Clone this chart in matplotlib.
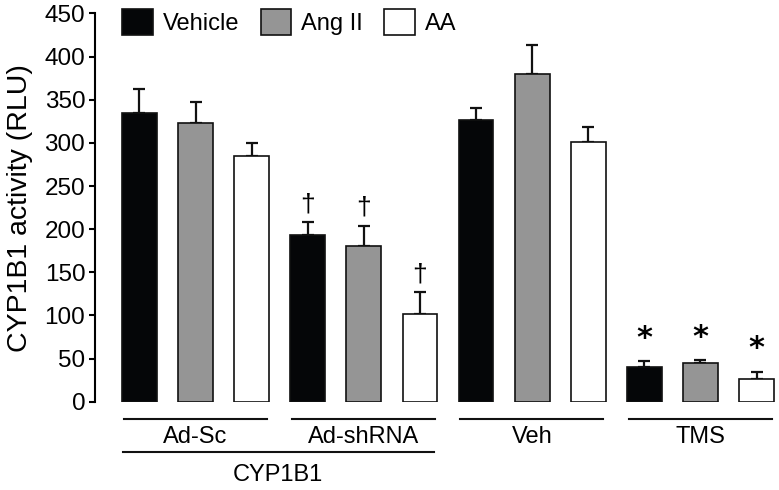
import numpy as np
import matplotlib
matplotlib.use("Agg")
import matplotlib.pyplot as plt
from matplotlib.patches import Patch

plt.rcParams['font.family'] = ['Liberation Sans', 'DejaVu Sans']

# data
groups = ['Ad-Sc', 'Ad-shRNA', 'Veh', 'TMS']
treatments = ['Vehicle', 'Ang II', 'AA']
colors = ['#050608', '#959595', '#ffffff']
means = np.array([
    [335, 323, 285],
    [193, 181, 102],
    [326, 380, 301],
    [40, 45, 26],
])
sems = np.array([
    [27, 24, 15],
    [15, 23, 25],
    [14, 33, 18],
    [7, 3, 9],
])
# significance marks: (group, treatment, symbol)
marks = [(1, 0, '\u2020'), (1, 1, '\u2020'), (1, 2, '\u2020'),
         (3, 0, '*'), (3, 1, '*'), (3, 2, '*')]
super_label = 'CYP1B1'
super_groups = [0, 1]

fig = plt.figure(figsize=(7.79, 4.9), dpi=100)
ax = fig.add_axes([95 / 779, 88.3 / 490, 684 / 779, 388.2 / 490])

n_t = len(treatments)
width = 0.62
for j, t in enumerate(treatments):
    x = np.arange(len(groups)) * n_t + j
    ax.bar(x, means[:, j], width, color=colors[j], edgecolor='#111111',
           linewidth=1.2, label=t, zorder=2)
    ax.errorbar(x, means[:, j], yerr=[np.zeros(len(groups)), sems[:, j]],
                fmt='none', ecolor='#111111', elinewidth=1.6, capsize=4.5,
                capthick=1.6, zorder=1)

for g, j, s in marks:
    x = g * n_t + j
    top = means[g, j] + sems[g, j]
    if s == '*':
        ax.text(x, top + 10, s, ha='center', va='bottom', fontsize=22,
                fontweight='bold', family='DejaVu Sans')
    else:
        ax.text(x, top + 7, s, ha='center', va='bottom', fontsize=19)

ax.set_xlim(-0.793, 11.4)
ax.set_ylim(0, 450)
ax.set_yticks(np.arange(0, 451, 50))
ax.set_xticks([])
ax.tick_params(axis='y', labelsize=17.5, length=4, width=1.5, pad=3)
for side in ['top', 'right', 'bottom']:
    ax.spines[side].set_visible(False)
ax.spines['left'].set_linewidth(1.5)
ax.set_ylabel('CYP1B1 activity (RLU)', fontsize=20.5, labelpad=8)

# group lines and labels under the axis
for g, name in enumerate(groups):
    x0 = g * n_t - 0.28
    x1 = g * n_t + n_t - 1 + 0.27
    ax.plot([x0, x1], [-19.5, -19.5], color='#111111', lw=1.5, clip_on=False)
    ax.text((x0 + x1) / 2, -41, name, ha='center', va='center', fontsize=17)

sx0 = super_groups[0] * n_t - 0.3
sx1 = super_groups[-1] * n_t + n_t - 1 + 0.25
ax.plot([sx0, sx1], [-58, -58], color='#111111', lw=1.5, clip_on=False)
ax.text((sx0 + sx1) / 2, -85, super_label, ha='center', va='center', fontsize=17)

handles = [Patch(facecolor=c, edgecolor='#111111', linewidth=1.2) for c in colors]
ax.legend(handles, treatments, loc='upper left', bbox_to_anchor=(0.04, 1.012),
          ncol=3, frameon=False, fontsize=17, handlelength=1.3, handleheight=1.3,
          handletextpad=0.42, columnspacing=0.9, borderpad=0, borderaxespad=0)

fig.savefig('out.png', dpi=100)
